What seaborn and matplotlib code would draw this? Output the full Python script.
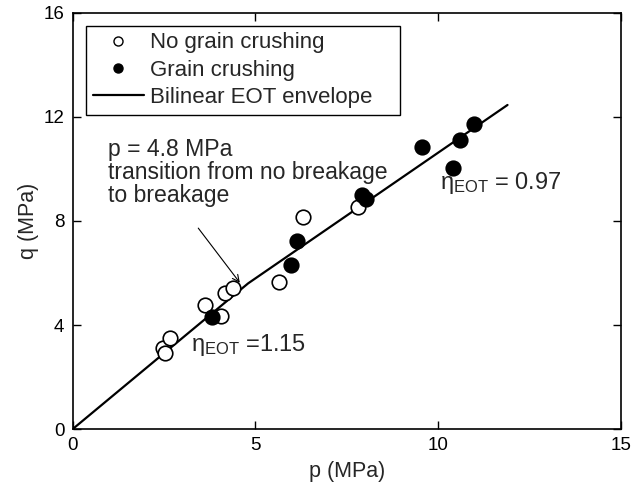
import matplotlib
matplotlib.use("Agg")
import matplotlib.pyplot as plt
import seaborn as sns
import pandas as pd
from matplotlib.lines import Line2D

# Data
p_no_crush = [2.48, 2.52, 2.66, 3.62, 4.07, 4.16, 4.39, 5.64, 6.30, 7.82]
q_no_crush = [3.10, 2.91, 3.51, 4.77, 4.35, 5.22, 5.41, 5.67, 8.14, 8.55]
p_crush = [3.82, 5.98, 6.14, 7.92, 8.03, 9.56, 10.42, 10.60, 10.99]
q_crush = [4.32, 6.31, 7.23, 9.00, 8.85, 10.83, 10.03, 11.12, 11.72]
p_env = [0.0, 4.8, 11.9]
q_env = [0.0, 5.6, 12.46]
x_ticks = [0, 5, 10, 15]
y_ticks = [0, 4, 8, 12, 16]

sns.set_theme(style="ticks")
plt.rcParams['font.family'] = ['Liberation Sans', 'DejaVu Sans']
plt.rcParams['mathtext.fontset'] = 'custom'
plt.rcParams['mathtext.rm'] = 'Liberation Sans'
plt.rcParams['mathtext.it'] = 'Liberation Sans'

fig = plt.figure(figsize=(6.39, 4.96), dpi=100)
ax = fig.add_axes([0.1138, 0.135, 0.8577, 0.839])

env = pd.DataFrame({"p": p_env, "q": q_env})
sns.lineplot(data=env, x="p", y="q", ax=ax, color="black", lw=1.6, sort=False)

df_no = pd.DataFrame({"p": p_no_crush, "q": q_no_crush})
df_cr = pd.DataFrame({"p": p_crush, "q": q_crush})
sns.scatterplot(data=df_no, x="p", y="q", ax=ax, s=110, facecolor="white",
                edgecolor="black", linewidth=1.2, zorder=3)
sns.scatterplot(data=df_cr, x="p", y="q", ax=ax, s=110, color="black",
                edgecolor="black", linewidth=1.2, zorder=3)

ax.set_xlim(0, 15)
ax.set_ylim(0, 16)
ax.set_xticks(x_ticks)
ax.set_yticks(y_ticks)
ax.tick_params(direction="in", length=6, width=1, top=True, right=True,
               labelsize=13.5, colors="black", pad=6)
for s in ax.spines.values():
    s.set_linewidth(1.2)
    s.set_color("black")
ax.set_xlabel("p (MPa)", fontsize=15.5, labelpad=5)
ax.set_ylabel("q (MPa)", fontsize=15.5, labelpad=3)

handles = [
    Line2D([], [], marker="o", ls="none", mfc="white", mec="black", ms=6.5, mew=1),
    Line2D([], [], marker="o", ls="none", mfc="black", mec="black", ms=6.5, mew=1),
    Line2D([], [], color="black", lw=1.6),
]
labels = ["No grain crushing", "Grain crushing", "Bilinear EOT envelope"]
leg = ax.legend(handles, labels, loc="upper left",
                bbox_to_anchor=(0.024, 0.745, 0.573, 0.224), mode="expand",
                borderaxespad=0, fontsize=16, frameon=True, fancybox=False,
                edgecolor="black", framealpha=1, handlelength=2.3,
                handletextpad=0.3, labelspacing=0.28, borderpad=0.3)
leg.get_frame().set_linewidth(1.0)

ax.text(0.96, 9.88, "p = 4.8 MPa\ntransition from no breakage\nto breakage",
        fontsize=16.6, va="center", ha="left", linespacing=1.0)
ax.annotate("", xy=(4.62, 5.54), xytext=(3.39, 7.81),
            arrowprops=dict(arrowstyle="->", color="black", lw=0.8))
ax.text(3.25, 3.25, r"$\eta_{\mathrm{EOT}}$ =1.15", fontsize=17, va="center", ha="left")
ax.text(10.04, 9.46, r"$\eta_{\mathrm{EOT}}$ = 0.97", fontsize=17, va="center", ha="left")

fig.savefig("out.png", dpi=100)
